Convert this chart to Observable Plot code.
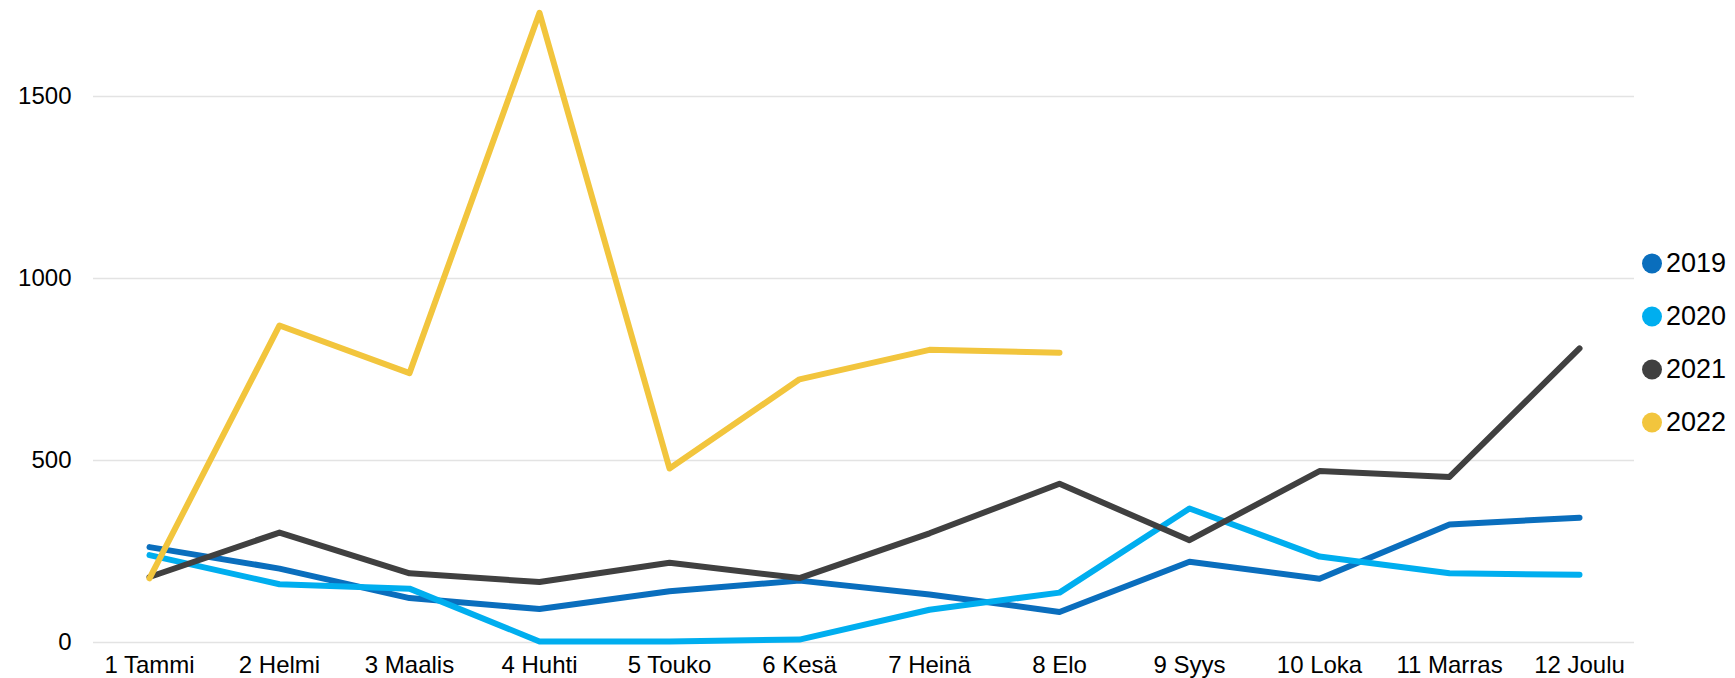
<!DOCTYPE html>
<html>
<head>
<meta charset="utf-8">
<script src="https://cdn.jsdelivr.net/npm/d3@7"></script>
<script src="https://cdn.jsdelivr.net/npm/@observablehq/plot@0.6"></script>
<style>
  html, body { margin: 0; padding: 0; background: #fff; overflow: hidden; }
  #wrap { position: relative; width: 1735px; height: 678px; font-family: "Liberation Sans", Arial, sans-serif; }
  #legend { position: absolute; left: 1642px; top: 0; }
  .item { position: absolute; left: 0; display: flex; align-items: center; white-space: nowrap; font-size: 27px; color: #000; transform: translateY(-50%); }
  .sw { width: 20px; height: 20px; border-radius: 50%; margin-right: 4px; flex: none; }
</style>
</head>
<body>
<div id="wrap"><div id="legend"></div></div>
<script>
const months = ["1 Tammi", "2 Helmi", "3 Maalis", "4 Huhti", "5 Touko", "6 Kesä", "7 Heinä", "8 Elo", "9 Syys", "10 Loka", "11 Marras", "12 Joulu"];
const years = ["2019", "2020", "2021", "2022"];
const colors = ["#0a6ebd", "#00aeef", "#404040", "#f2c53d"];
const v2019 = [262, 203, 122, 92, 141, 170, 132, 84, 222, 175, 324, 343];
const v2020 = [240, 160, 148, 3, 3, 8, 90, 137, 368, 236, 190, 186];
const v2021 = [180, 302, 190, 166, 219, 177, 300, 436, 281, 471, 455, 808];
const v2022 = [176, 871, 740, 1730, 478, 723, 804, 796];
const yTicks = [0, 500, 1000, 1500];

const series = [v2019, v2020, v2021, v2022];
const rows = [];
series.forEach((vals, i) => vals.forEach((v, j) => rows.push({month: months[j], value: v, year: years[i]})));

const chart = Plot.plot({
  width: 1735,
  height: 678,
  marginLeft: 93,
  marginRight: 101,
  marginTop: 5,
  marginBottom: 36,
  style: {fontFamily: '"Liberation Sans", Arial, sans-serif', color: "#000", background: "#fff"},
  x: {type: "point", domain: months, padding: 0.4},
  y: {domain: [0, 1750]},
  color: {domain: years, range: colors},
  marks: [
    Plot.gridY(yTicks, {stroke: "#e3e3e3", strokeOpacity: 1, strokeWidth: 1.5}),
    Plot.axisY(yTicks, {tickSize: 0, tickPadding: 22, fontSize: 24, tickFormat: d => String(d), label: null}),
    Plot.axisX({tickSize: 0, tickPadding: 13, fontSize: 24, label: null}),
    Plot.line(rows, {x: "month", y: "value", z: "year", stroke: "year", strokeWidth: 6, strokeLinecap: "round", strokeLinejoin: "round"})
  ]
});
document.getElementById("wrap").prepend(chart);

const legend = document.getElementById("legend");
const legendTops = [263, 316, 369, 422];
years.forEach((y, i) => {
  const it = document.createElement("div");
  it.className = "item";
  it.style.top = legendTops[i] + "px";
  it.innerHTML = `<span class="sw" style="background:${colors[i]}"></span><span>${y}</span>`;
  legend.appendChild(it);
});
</script>
</body>
</html>
